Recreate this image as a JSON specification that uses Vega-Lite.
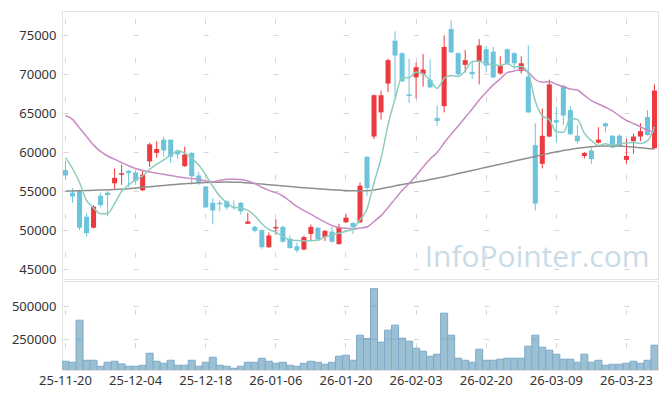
{
  "$schema": "https://vega.github.io/schema/vega-lite/v6.json",
  "padding": {"left": 10, "top": 10, "right": 8, "bottom": 5},
  "spacing": 0,
  "config": {
    "font": "Noto Sans",
    "view": {"stroke": "#e3e3e3"},
    "axis": {"labelFont": "Noto Sans", "labelFontSize": 13, "labelColor": "#333333", "domain": false, "ticks": false, "title": null, "gridColor": "#d6d6d6", "gridWidth": 1}
  },
  "datasets": {
    "candles": [
      {"d":"25-11-20","open":57700,"high":58900,"low":56500,"close":57000,"volume":83000,"ma5":59300,"ma20":64700,"ma120":55000},
      {"d":"25-11-21","open":54800,"high":55400,"low":53500,"close":54300,"volume":75500,"ma5":57900,"ma20":64200,"ma120":55020},
      {"d":"25-11-24","open":55000,"high":55200,"low":50000,"close":50300,"volume":393000,"ma5":56100,"ma20":63100,"ma120":55050},
      {"d":"25-11-25","open":51700,"high":52100,"low":49200,"close":49600,"volume":90600,"ma5":53800,"ma20":62000,"ma120":55080},
      {"d":"25-11-26","open":50300,"high":53200,"low":50200,"close":53000,"volume":90600,"ma5":52840,"ma20":60900,"ma120":55100},
      {"d":"25-11-27","open":54400,"high":54800,"low":52900,"close":53200,"volume":45200,"ma5":52080,"ma20":60100,"ma120":55130},
      {"d":"25-11-28","open":54800,"high":55000,"low":51800,"close":54500,"volume":75500,"ma5":52120,"ma20":59500,"ma120":55160},
      {"d":"25-12-01","open":56000,"high":57900,"low":55200,"close":56700,"volume":83000,"ma5":53400,"ma20":59100,"ma120":55200},
      {"d":"25-12-02","open":57100,"high":58400,"low":55800,"close":57300,"volume":62900,"ma5":54940,"ma20":58650,"ma120":55250},
      {"d":"25-12-03","open":57600,"high":57700,"low":55500,"close":57300,"volume":45200,"ma5":55800,"ma20":58250,"ma120":55300},
      {"d":"25-12-04","open":57400,"high":57700,"low":55800,"close":56300,"volume":45200,"ma5":56420,"ma20":57900,"ma120":55400},
      {"d":"25-12-05","open":55100,"high":57600,"low":55000,"close":57100,"volume":52800,"ma5":56940,"ma20":57650,"ma120":55480},
      {"d":"25-12-08","open":58800,"high":61200,"low":58100,"close":61000,"volume":143700,"ma5":57800,"ma20":57450,"ma120":55560},
      {"d":"25-12-09","open":59900,"high":61400,"low":59300,"close":60400,"volume":83000,"ma5":58420,"ma20":57300,"ma120":55640},
      {"d":"25-12-10","open":61600,"high":62000,"low":59400,"close":60200,"volume":67900,"ma5":59000,"ma20":57150,"ma120":55720},
      {"d":"25-12-11","open":61600,"high":61600,"low":58600,"close":59400,"volume":90600,"ma5":59620,"ma20":57000,"ma120":55800},
      {"d":"25-12-12","open":60200,"high":60300,"low":59100,"close":59700,"volume":52800,"ma5":60140,"ma20":56830,"ma120":55870},
      {"d":"25-12-15","open":58200,"high":60700,"low":58100,"close":59700,"volume":52800,"ma5":59880,"ma20":56700,"ma120":55940},
      {"d":"25-12-16","open":59900,"high":60000,"low":55800,"close":56900,"volume":90600,"ma5":59180,"ma20":56600,"ma120":56000},
      {"d":"25-12-17","open":57000,"high":57500,"low":55800,"close":56100,"volume":45200,"ma5":58360,"ma20":56500,"ma120":56060},
      {"d":"25-12-18","open":55600,"high":55600,"low":52900,"close":52900,"volume":75500,"ma5":57060,"ma20":56300,"ma120":56100},
      {"d":"25-12-19","open":53500,"high":54100,"low":50800,"close":52500,"volume":113400,"ma5":55620,"ma20":56200,"ma120":56130},
      {"d":"25-12-22","open":53500,"high":53800,"low":52400,"close":53300,"volume":52800,"ma5":54340,"ma20":56360,"ma120":56150},
      {"d":"25-12-23","open":53700,"high":53800,"low":52600,"close":52900,"volume":45200,"ma5":53540,"ma20":56520,"ma120":56160},
      {"d":"25-12-24","open":53000,"high":53800,"low":52600,"close":52900,"volume":30000,"ma5":52900,"ma20":56520,"ma120":56150},
      {"d":"25-12-26","open":53500,"high":53600,"low":52000,"close":52400,"volume":45200,"ma5":52800,"ma20":56480,"ma120":56120},
      {"d":"25-12-29","open":50800,"high":52200,"low":50800,"close":51100,"volume":75500,"ma5":52520,"ma20":56300,"ma120":56050},
      {"d":"25-12-30","open":50400,"high":50600,"low":49700,"close":49900,"volume":75500,"ma5":51840,"ma20":55970,"ma120":55980},
      {"d":"26-01-02","open":50000,"high":50100,"low":47600,"close":47800,"volume":105800,"ma5":50820,"ma20":55490,"ma120":55900},
      {"d":"26-01-05","open":47800,"high":49700,"low":47700,"close":49300,"volume":83000,"ma5":50100,"ma20":55090,"ma120":55820},
      {"d":"26-01-06","open":50200,"high":51400,"low":49400,"close":50400,"volume":67900,"ma5":49700,"ma20":54800,"ma120":55740},
      {"d":"26-01-07","open":50400,"high":50600,"low":48400,"close":48500,"volume":75500,"ma5":49180,"ma20":54370,"ma120":55660},
      {"d":"26-01-08","open":48900,"high":49300,"low":47600,"close":47700,"volume":52800,"ma5":48740,"ma20":53700,"ma120":55580},
      {"d":"26-01-09","open":47900,"high":48400,"low":47100,"close":47400,"volume":45200,"ma5":48660,"ma20":53050,"ma120":55500},
      {"d":"26-01-12","open":47500,"high":49300,"low":47400,"close":49100,"volume":67900,"ma5":48620,"ma20":52500,"ma120":55430},
      {"d":"26-01-13","open":49500,"high":50700,"low":48600,"close":50400,"volume":83000,"ma5":48620,"ma20":52050,"ma120":55360},
      {"d":"26-01-14","open":50300,"high":50400,"low":48700,"close":48800,"volume":75500,"ma5":48680,"ma20":51500,"ma120":55300},
      {"d":"26-01-15","open":49100,"high":50000,"low":48600,"close":49900,"volume":60300,"ma5":49120,"ma20":51010,"ma120":55240},
      {"d":"26-01-16","open":49800,"high":50400,"low":48400,"close":48500,"volume":75500,"ma5":49340,"ma20":50590,"ma120":55180},
      {"d":"26-01-19","open":48200,"high":50800,"low":48100,"close":50400,"volume":121000,"ma5":49600,"ma20":50300,"ma120":55130},
      {"d":"26-01-20","open":51000,"high":52100,"low":50900,"close":51600,"volume":128500,"ma5":49840,"ma20":50240,"ma120":55080},
      {"d":"26-01-21","open":50900,"high":51000,"low":49500,"close":50400,"volume":90600,"ma5":50160,"ma20":50140,"ma120":55050},
      {"d":"26-01-22","open":51000,"high":56100,"low":50900,"close":55700,"volume":280000,"ma5":51320,"ma20":50260,"ma120":55040},
      {"d":"26-01-23","open":59400,"high":59500,"low":54400,"close":55400,"volume":254800,"ma5":52700,"ma20":50380,"ma120":55060},
      {"d":"26-01-26","open":62000,"high":67400,"low":61700,"close":67300,"volume":631000,"ma5":56080,"ma20":51100,"ma120":55150},
      {"d":"26-01-27","open":65100,"high":67900,"low":64200,"close":67300,"volume":227000,"ma5":59220,"ma20":51850,"ma120":55300},
      {"d":"26-01-28","open":68800,"high":72000,"low":67700,"close":71800,"volume":317900,"ma5":63500,"ma20":52880,"ma120":55480},
      {"d":"26-01-29","open":74300,"high":75500,"low":67000,"close":72400,"volume":355800,"ma5":66840,"ma20":54000,"ma120":55660},
      {"d":"26-01-30","open":72700,"high":72800,"low":69000,"close":69100,"volume":257300,"ma5":69580,"ma20":55070,"ma120":55850},
      {"d":"26-02-02","open":67400,"high":72000,"low":66300,"close":67200,"volume":234600,"ma5":69560,"ma20":55970,"ma120":56000},
      {"d":"26-02-03","open":69600,"high":71500,"low":66900,"close":70900,"volume":181500,"ma5":70280,"ma20":56990,"ma120":56150},
      {"d":"26-02-04","open":70000,"high":72600,"low":68400,"close":70600,"volume":158800,"ma5":70040,"ma20":58100,"ma120":56300},
      {"d":"26-02-05","open":69300,"high":71900,"low":68200,"close":68300,"volume":121000,"ma5":69220,"ma20":59130,"ma120":56480},
      {"d":"26-02-06","open":64400,"high":66000,"low":63400,"close":64000,"volume":136100,"ma5":68200,"ma20":59960,"ma120":56650},
      {"d":"26-02-09","open":65900,"high":75000,"low":65100,"close":73500,"volume":446400,"ma5":69460,"ma20":61180,"ma120":56850},
      {"d":"26-02-10","open":75800,"high":76900,"low":72700,"close":72800,"volume":280000,"ma5":69840,"ma20":62300,"ma120":57050},
      {"d":"26-02-11","open":72700,"high":72800,"low":69600,"close":70000,"volume":105800,"ma5":69720,"ma20":63360,"ma120":57250},
      {"d":"26-02-12","open":71200,"high":73100,"low":70200,"close":71800,"volume":90600,"ma5":70420,"ma20":64450,"ma120":57450},
      {"d":"26-02-13","open":70300,"high":71600,"low":69400,"close":70000,"volume":75500,"ma5":71620,"ma20":65530,"ma120":57650},
      {"d":"26-02-19","open":71600,"high":74500,"low":68700,"close":73700,"volume":174000,"ma5":71660,"ma20":66690,"ma120":57850},
      {"d":"26-02-20","open":73200,"high":73600,"low":70200,"close":71100,"volume":90600,"ma5":71320,"ma20":67670,"ma120":58050},
      {"d":"26-02-23","open":72900,"high":73500,"low":69500,"close":69600,"volume":90600,"ma5":71240,"ma20":68630,"ma120":58250},
      {"d":"26-02-24","open":70100,"high":72300,"low":69900,"close":71100,"volume":98200,"ma5":71100,"ma20":69400,"ma120":58450},
      {"d":"26-02-25","open":73200,"high":73300,"low":71200,"close":71400,"volume":105800,"ma5":71380,"ma20":70200,"ma120":58650},
      {"d":"26-02-26","open":72700,"high":72800,"low":70600,"close":71400,"volume":105800,"ma5":70920,"ma20":70400,"ma120":58850},
      {"d":"26-02-27","open":70400,"high":72300,"low":70100,"close":71400,"volume":105800,"ma5":70980,"ma20":70610,"ma120":59050},
      {"d":"26-03-03","open":69700,"high":73700,"low":65000,"close":65100,"volume":196700,"ma5":70080,"ma20":70270,"ma120":59250},
      {"d":"26-03-04","open":60900,"high":63700,"low":52500,"close":53400,"volume":280000,"ma5":66540,"ma20":69320,"ma120":59450},
      {"d":"26-03-05","open":58500,"high":65600,"low":57900,"close":62100,"volume":189100,"ma5":64680,"ma20":68970,"ma120":59650},
      {"d":"26-03-06","open":62000,"high":69300,"low":61900,"close":68700,"volume":166400,"ma5":64140,"ma20":69050,"ma120":59850},
      {"d":"26-03-09","open":64100,"high":65800,"low":61200,"close":63800,"volume":136100,"ma5":62620,"ma20":68690,"ma120":60050},
      {"d":"26-03-10","open":68500,"high":68600,"low":63500,"close":64700,"volume":98200,"ma5":62540,"ma20":68400,"ma120":60200},
      {"d":"26-03-11","open":65400,"high":65900,"low":62200,"close":62300,"volume":98200,"ma5":64320,"ma20":68100,"ma120":60350},
      {"d":"26-03-12","open":62100,"high":63500,"low":61100,"close":61400,"volume":75500,"ma5":64180,"ma20":67970,"ma120":60500},
      {"d":"26-03-13","open":59500,"high":60000,"low":59200,"close":59900,"volume":136100,"ma5":62420,"ma20":67290,"ma120":60600},
      {"d":"26-03-16","open":60200,"high":60500,"low":58500,"close":59100,"volume":75500,"ma5":61480,"ma20":66600,"ma120":60700},
      {"d":"26-03-17","open":61200,"high":63200,"low":61100,"close":61600,"volume":90600,"ma5":60860,"ma20":66180,"ma120":60750},
      {"d":"26-03-18","open":63700,"high":63800,"low":62500,"close":63300,"volume":52800,"ma5":61060,"ma20":65760,"ma120":60780},
      {"d":"26-03-19","open":62100,"high":62200,"low":60500,"close":60600,"volume":60300,"ma5":60900,"ma20":65290,"ma120":60800},
      {"d":"26-03-20","open":62100,"high":62300,"low":60700,"close":60800,"volume":60300,"ma5":61080,"ma20":64640,"ma120":60780},
      {"d":"26-03-23","open":59000,"high":61700,"low":58500,"close":59500,"volume":67900,"ma5":61160,"ma20":64060,"ma120":60730},
      {"d":"26-03-24","open":61400,"high":62400,"low":59800,"close":62000,"volume":83000,"ma5":61240,"ma20":63680,"ma120":60650},
      {"d":"26-03-25","open":62000,"high":63700,"low":61400,"close":62700,"volume":67900,"ma5":61120,"ma20":63260,"ma120":60560},
      {"d":"26-03-26","open":64500,"high":65400,"low":62100,"close":62200,"volume":90600,"ma5":61440,"ma20":62800,"ma120":60470},
      {"d":"26-03-27","open":60500,"high":68700,"low":60400,"close":67900,"volume":204300,"ma5":63260,"ma20":62630,"ma120":60400}
    ]
  },
  "vconcat": [
    {
      "width": 596,
      "height": 268,
      "data": {"name": "candles"},
      "encoding": {
        "x": {
          "field": "d", "type": "ordinal", "sort": "ascending",
          "scale": {"paddingInner": 0, "paddingOuter": 0},
          "axis": {"labels": false, "grid": true, "bandPosition": 0.5, "minExtent": 0, "maxExtent": 0,
                   "values": ["25-11-20","25-12-04","25-12-18","26-01-06","26-01-20","26-02-03","26-02-20","26-03-09","26-03-23"],
                   "gridDash": [5, 33.96], "gridDashOffset": 31.46}
        }
      },
      "layer": [
        {
          "mark": {"type": "rule", "strokeWidth": 1},
          "encoding": {
            "y": {"field": "low", "type": "quantitative",
                  "scale": {"domain": [43720, 78110], "nice": false, "zero": false},
                  "axis": {"values": [45000, 50000, 55000, 60000, 65000, 70000, 75000], "format": "d", "labelPadding": 6,
                           "grid": true, "gridDash": [5, 65.12], "gridDashOffset": 69.12}},
            "y2": {"field": "high"},
            "color": {"condition": {"test": "datum.close > datum.open", "value": "#ec3a3f"}, "value": "#6bc4dc"}
          }
        },
        {
          "mark": {"type": "bar", "width": {"band": 0.72}},
          "encoding": {
            "y": {"field": "open", "type": "quantitative"},
            "y2": {"field": "close"},
            "color": {"condition": {"test": "datum.close > datum.open", "value": "#ec3a3f"}, "value": "#6bc4dc"}
          }
        },
        {
          "mark": {"type": "line", "interpolate": "monotone", "color": "#8f8f8f", "strokeWidth": 1.5},
          "encoding": {"y": {"field": "ma120", "type": "quantitative"}}
        },
        {
          "mark": {"type": "line", "interpolate": "monotone", "color": "#c88cc3", "strokeWidth": 1.5},
          "encoding": {"y": {"field": "ma20", "type": "quantitative"}}
        },
        {
          "mark": {"type": "line", "interpolate": "monotone", "color": "#8ccdbe", "strokeWidth": 1.5},
          "encoding": {"y": {"field": "ma5", "type": "quantitative"}}
        },
        {
          "data": {"values": [{"label": "InfoPointer.com"}]},
          "mark": {"type": "text", "font": "Open Sans", "fontSize": 30, "color": "#c9dbe6", "align": "right", "baseline": "alphabetic", "dx": -5},
          "encoding": {
            "x": {"datum": "26-03-27", "type": "ordinal"},
            "y": {"datum": 45200, "type": "quantitative"},
            "text": {"field": "label"}
          }
        }
      ]
    },
    {
      "width": 596,
      "height": 89,
      "data": {"name": "candles"},
      "encoding": {
        "x": {
          "field": "d", "type": "ordinal", "sort": "ascending",
          "scale": {"paddingInner": 0, "paddingOuter": 0},
          "axis": {"labelAngle": 0, "labelPadding": 4, "grid": true, "bandPosition": 0.5,
                   "values": ["25-11-20","25-12-04","25-12-18","26-01-06","26-01-20","26-02-03","26-02-20","26-03-09","26-03-23"],
                   "gridDash": [5, 28.11], "gridDashOffset": 4.75}
        }
      },
      "layer": [
        {
          "mark": {"type": "bar", "fill": "#9bc0d4", "stroke": "#7eaac8", "strokeWidth": 1, "width": {"band": 1}, "clip": true},
          "encoding": {
            "y": {"field": "volume", "type": "quantitative",
                  "scale": {"domain": [17000, 689000], "nice": false, "zero": false},
                  "axis": {"values": [250000, 500000], "format": "d", "labelPadding": 6,
                           "grid": true, "gridDash": [5, 65.12], "gridDashOffset": 69.12}}
          }
        },
        {
          "transform": [{"filter": "datum.volume > 250000"}],
          "mark": {"type": "tick", "color": "#7eaac8", "thickness": 1, "size": 7, "orient": "horizontal"},
          "encoding": {"y": {"datum": 250000, "type": "quantitative"}}
        },
        {
          "transform": [{"filter": "datum.volume > 500000"}],
          "mark": {"type": "tick", "color": "#7eaac8", "thickness": 1, "size": 7, "orient": "horizontal"},
          "encoding": {"y": {"datum": 500000, "type": "quantitative"}}
        }
      ]
    }
  ]
}
